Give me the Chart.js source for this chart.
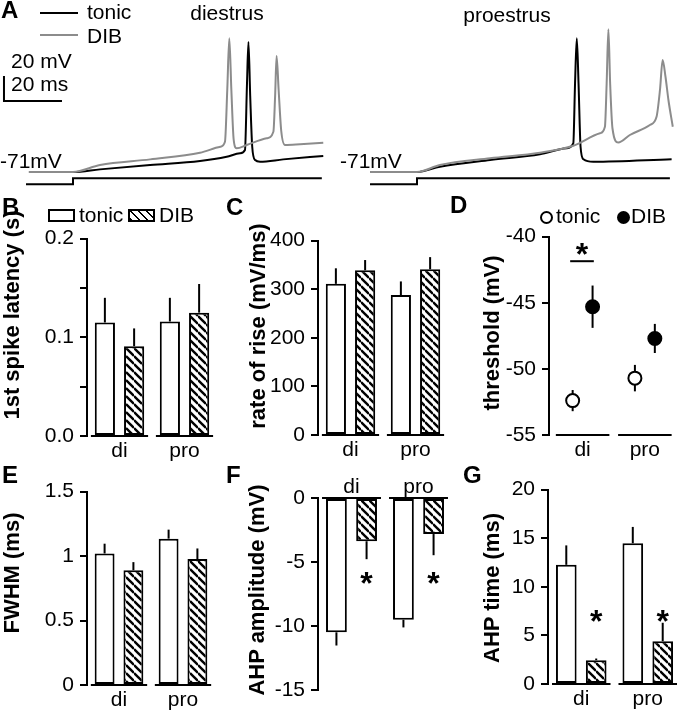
<!DOCTYPE html>
<html>
<head>
<meta charset="utf-8">
<script src="https://cdn.jsdelivr.net/npm/chart.js@4.4.1/dist/chart.umd.min.js"></script>
<style>
  body { margin: 0; background: #fff; }
  #fig { position: relative; width: 682px; height: 714px; overflow: hidden;
         font-family: "Liberation Sans", Arial, sans-serif; color: #000; }
  #fig canvas { position: absolute; }
  .t { position: absolute; line-height: 1; white-space: nowrap; }
  .yt { position: absolute; line-height: 1; white-space: nowrap; font-weight: bold; font-size: 22px;
        transform: translate(-50%, -50%) rotate(-90deg); }
</style>
</head>
<body>
<div id="fig"></div>
<script>
// ---- data ----
const groups = ['di', 'pro'];

// B: 1st spike latency (s)
const latTonic = [0.115, 0.116];
const latTonicErr = [0.025, 0.024];
const latDib = [0.091, 0.125];
const latDibErr = [0.018, 0.029];

// C: rate of rise (mV/ms)
const riseTonic = [311, 288];
const riseTonicErr = [32, 28];
const riseDib = [339, 341];
const riseDibErr = [21, 25];

// D: threshold (mV)
const thrTonic = [-52.4, -50.7];
const thrTonicErr = [0.8, 1.0];
const thrDib = [-45.3, -47.7];
const thrDibErr = [1.6, 1.1];

// E: FWHM (ms)
const fwhmTonic = [1.02, 1.135];
const fwhmTonicErr = [0.076, 0.07];
const fwhmDib = [0.89, 0.977];
const fwhmDibErr = [0.063, 0.082];

// F: AHP amplitude (mV)
const ahpAmpTonic = [-10.47, -9.49];
const ahpAmpTonicErr = [1.03, 0.6];
const ahpAmpDib = [-3.37, -2.81];
const ahpAmpDibErr = [1.4, 1.65];

// G: AHP time (ms)
const ahpTimeTonic = [12.26, 14.48];
const ahpTimeTonicErr = [2.0, 1.68];
const ahpTimeDib = [2.45, 4.4];
const ahpTimeDibErr = [0.17, 1.9];

// A: example traces (time ms from step onset, membrane potential mV)
const diTonicT = [-15.2, 0, 9.3, 26.6, 43.8, 53, 57.6, 59.3, 60.0, 60.5, 61.1, 61.8, 62.8, 64.5, 72.5, 86.3];
const diTonicV = [-71, -71, -68.9, -65.4, -62.2, -58.8, -56, -53.4, 0, 33, -10, -50.8, -61.4, -62.8, -60.9, -58.2];
const diDibT = [-15.2, 0, 9.3, 26.6, 43.8, 50.8, 52.4, 53.2, 53.9, 54.6, 55.4, 56.4, 59.9, 66.8, 69.1, 69.7, 70.2, 70.9, 71.8, 73.1, 78.3, 86.3];
const diDibV = [-71, -71, -65.4, -60.9, -55.6, -50.8, -46.8, -5, 36, -5, -45, -52, -49.4, -44, -38.8, -10, 21.8, -5, -38, -49.4, -48.8, -47.6];
const proTonicT = [-16.2, 0, 7.9, 25.2, 42.4, 51.6, 53.9, 54.5, 55.1, 55.7, 56.4, 57.4, 60.8, 87.8];
const proTonicV = [-71, -71, -66.8, -61.4, -56.8, -52, -48, 0, 36, 0, -50.8, -60.8, -62.8, -60.8];
const proDibT = [-16.2, 0, 7.9, 25.2, 42.4, 53.9, 63.1, 64.8, 65.4, 66.0, 66.6, 67.4, 69.4, 73.4, 80.3, 82.6, 83.8, 84.7, 85.7, 86.7, 88.2];
const proDibV = [-71, -71, -65.4, -60, -55.6, -50, -40, -34.8, 0, 43.2, 0, -36, -47.4, -41.4, -33.4, -26.8, -5, 18.6, 5, -13.4, -34.8];
// current step (relative units)
const diStimT = [-16.2, 0, 0, 85.8];
const proStimT = [-16.2, 0, 0, 87.2];
const stimI = [0, 0, 1, 1];

const FONT = '"Liberation Sans", Arial, sans-serif';
const GRAY = '#8c8c8c';
const fig = document.getElementById('fig');

Chart.defaults.font.family = FONT;
Chart.defaults.font.size = 21;
Chart.defaults.color = '#000';

function makeCanvas(left, top, w, h) {
  const c = document.createElement('canvas');
  c.width = w; c.height = h;
  c.style.left = left + 'px'; c.style.top = top + 'px';
  c.style.width = w + 'px'; c.style.height = h + 'px';
  fig.appendChild(c);
  return c;
}

function zip(xs, ys) {
  return xs.map((x, i) => ({ x, y: ys[i] }));
}

function makeHatch() {
  const s = 8;
  const c = document.createElement('canvas');
  c.width = s; c.height = s;
  const g = c.getContext('2d');
  g.fillStyle = '#fff';
  g.fillRect(0, 0, s, s);
  g.strokeStyle = '#000';
  g.lineWidth = 2.4;
  [-1, 0, 1].forEach((k) => {
    g.beginPath();
    g.moveTo(0, k * s);
    g.lineTo(s, s + k * s);
    g.stroke();
  });
  return g.createPattern(c, 'repeat');
}
const hatch = makeHatch();

// error bars on bars (away from zero) or through points (both ways)
const errorBars = {
  id: 'errorBars',
  beforeDatasetsDraw(chart, args, opts) {
    if (opts.mode === 'both') draw(chart, opts);
  },
  afterDatasetsDraw(chart, args, opts) {
    if (opts.mode !== 'both') draw(chart, opts);
  },
};
function draw(chart, opts) {
  const ctx = chart.ctx;
  const ys = chart.scales.y;
  ctx.save();
  ctx.strokeStyle = '#000';
  ctx.lineWidth = 2;
  chart.data.datasets.forEach((ds, i) => {
    if (!ds.errors) return;
    chart.getDatasetMeta(i).data.forEach((el, j) => {
      const d = ds.data[j];
      const v = typeof d === 'object' ? d.y : d;
      const e = ds.errors[j];
      ctx.beginPath();
      if (opts.mode === 'both') {
        ctx.moveTo(el.x, ys.getPixelForValue(v - e));
        ctx.lineTo(el.x, ys.getPixelForValue(v + e));
      } else {
        ctx.moveTo(el.x, el.y);
        ctx.lineTo(el.x, ys.getPixelForValue(v + Math.sign(v) * e));
      }
      ctx.stroke();
    });
  });
  ctx.restore();
}

// separate baseline segment under each group, stars and significance lines
const marks = {
  id: 'marks',
  afterDraw(chart, args, opts) {
    const ctx = chart.ctx;
    const xs = chart.scales.x, ys = chart.scales.y;
    ctx.save();
    ctx.strokeStyle = '#000';
    ctx.fillStyle = '#000';
    ctx.lineWidth = 2;
    const by = ys.getPixelForValue(opts.base);
    opts.centers.forEach((c) => {
      ctx.beginPath();
      ctx.moveTo(xs.getPixelForValue(c - opts.half), by);
      ctx.lineTo(xs.getPixelForValue(c + opts.half), by);
      ctx.stroke();
    });
    (opts.lines || []).forEach((l) => {
      const y = ys.getPixelForValue(l.y);
      ctx.beginPath();
      ctx.moveTo(xs.getPixelForValue(l.x0), y);
      ctx.lineTo(xs.getPixelForValue(l.x1), y);
      ctx.stroke();
    });
    ctx.font = 'bold 32px ' + FONT;
    ctx.textAlign = 'center';
    ctx.textBaseline = 'alphabetic';
    (opts.stars || []).forEach((s) => {
      const px = s.ds != null ? chart.getDatasetMeta(s.ds).data[s.idx].x : xs.getPixelForValue(s.x);
      const py = ys.getPixelForValue(s.y);
      ctx.fillText('*', px, py + 0.56 * 32);
    });
    ctx.restore();
  },
};

const plain = (v) => String(v);

function yAxis(min, max, step, fmt, width) {
  return {
    min, max,
    ticks: { stepSize: step, autoSkip: false, padding: 6, font: { size: 21 }, color: '#000', callback: fmt || plain },
    grid: { drawOnChartArea: false, drawTicks: true, tickLength: 7, color: '#000', lineWidth: 2 },
    border: { display: true, color: '#000', width: 2 },
    afterFit: (s) => { s.width = width; },
  };
}

function barPanel(p) {
  const isTop = p.xPos === 'top';
  const top = isTop ? p.top - 30 : p.top - 15;
  const height = isTop ? p.bottom - top + 14 : p.bottom - top + 29;
  const width = p.right - p.left + 3;
  const cv = makeCanvas(p.left, top, width, height);
  return new Chart(cv, {
    type: 'bar',
    data: {
      labels: groups,
      datasets: [
        { label: 'tonic', data: p.tonic, errors: p.tonicErr, backgroundColor: '#fff' },
        { label: 'DIB', data: p.dib, errors: p.dibErr, backgroundColor: hatch },
      ],
    },
    options: {
      responsive: false,
      animation: false,
      layout: { padding: { left: 0, right: 3, top: isTop ? 0 : 15, bottom: isTop ? 14 : 0 } },
      datasets: { bar: { categoryPercentage: 0.9, barPercentage: 0.69, borderColor: '#000', borderWidth: 2, borderSkipped: false } },
      plugins: {
        legend: { display: false },
        tooltip: { enabled: false },
        errorBars: { mode: 'out' },
        marks: { base: 0, centers: [0, 1], half: 0.44, stars: p.stars },
      },
      scales: {
        x: {
          position: p.xPos || 'bottom',
          offset: true,
          grid: { display: false, drawTicks: false },
          border: { display: false },
          ticks: { font: { size: 21 }, color: '#000', padding: isTop ? -2 : 3 },
          afterFit: (s) => { s.height = isTop ? 30 : 29; },
        },
        y: yAxis(p.min, p.max, p.step, p.fmt, p.axisX - p.left),
      },
    },
    plugins: [errorBars, marks],
  });
}

// scale bar in panel A
const scaleBar = {
  id: 'scaleBar',
  afterDraw(chart, args, opts) {
    if (!opts.show) return;
    const ctx = chart.ctx, xs = chart.scales.x, ys = chart.scales.y;
    const x0 = xs.getPixelForValue(opts.t0), x1 = xs.getPixelForValue(opts.t0 + 20);
    const y0 = ys.getPixelForValue(opts.v0), y1 = ys.getPixelForValue(opts.v0 + 20);
    ctx.save();
    ctx.strokeStyle = '#000';
    ctx.lineWidth = 2;
    ctx.beginPath();
    ctx.moveTo(x0, y1);
    ctx.lineTo(x0, y0);
    ctx.lineTo(x1, y0);
    ctx.stroke();
    ctx.restore();
  },
};

function traceChart(left, width, tonicT, tonicV, dibT, dibV, stimT, showBar) {
  const cv = makeCanvas(left, 0, width, 195);
  return new Chart(cv, {
    type: 'line',
    data: {
      datasets: [
        { data: zip(dibT, dibV), borderColor: GRAY, cubicInterpolationMode: 'monotone' },
        { data: zip(tonicT, tonicV), borderColor: '#000', cubicInterpolationMode: 'monotone' },
        { data: zip(stimT, stimI), borderColor: '#000', yAxisID: 'yI', tension: 0 },
      ],
    },
    options: {
      responsive: false,
      animation: false,
      layout: { padding: 0 },
      elements: { point: { radius: 0 }, line: { borderWidth: 2, fill: false } },
      plugins: {
        legend: { display: false },
        tooltip: { enabled: false },
        scaleBar: { show: showBar, t0: -23.8, v0: -14.2 },
      },
      scales: {
        x: { type: 'linear', display: false, min: -73 / 2.9, max: (width - 73) / 2.9 },
        y: { display: false, min: -71 - 23 / 1.25, max: -71 + 172 / 1.25 },
        yI: { display: false, min: -(195 - 184.3) / 6, max: 184.3 / 6 },
      },
    },
    plugins: [scaleBar],
  });
}

traceChart(0, 340, diTonicT, diTonicV, diDibT, diDibV, diStimT, true);
traceChart(344, 338, proTonicT, proTonicV, proDibT, proDibV, proStimT, false);

const tenths = (v) => (Math.abs(v * 10 - Math.round(v * 10)) < 1e-6 ? v.toFixed(1) : '');

barPanel({ left: 30, axisX: 87, top: 235, bottom: 436, right: 217, min: 0, max: 0.2, step: 0.05, fmt: tenths,
  tonic: latTonic, tonicErr: latTonicErr, dib: latDib, dibErr: latDibErr });
barPanel({ left: 265, axisX: 318, top: 237, bottom: 435, right: 448, min: 0, max: 400, step: 100,
  tonic: riseTonic, tonicErr: riseTonicErr, dib: riseDib, dibErr: riseDibErr });
barPanel({ left: 30, axisX: 87, top: 488, bottom: 685, right: 215, min: 0, max: 1.5, step: 0.5,
  tonic: fwhmTonic, tonicErr: fwhmTonicErr, dib: fwhmDib, dibErr: fwhmDibErr });
barPanel({ left: 265, axisX: 318, top: 498, bottom: 695, right: 452, min: -15, max: 0, step: 5, xPos: 'top',
  tonic: ahpAmpTonic, tonicErr: ahpAmpTonicErr, dib: ahpAmpDib, dibErr: ahpAmpDibErr,
  stars: [{ ds: 1, idx: 0, y: -6.1 }, { ds: 1, idx: 1, y: -6.1 }] });
barPanel({ left: 500, axisX: 548, top: 486, bottom: 684, right: 681, min: 0, max: 20, step: 5,
  tonic: ahpTimeTonic, tonicErr: ahpTimeTonicErr, dib: ahpTimeDib, dibErr: ahpTimeDibErr,
  stars: [{ ds: 1, idx: 0, y: 7.2 }, { ds: 1, idx: 1, y: 7.2 }] });

// D: threshold, points with error bars
(function () {
  const dodge = 0.16;
  const cv = makeCanvas(500, 218, 182, 246);
  new Chart(cv, {
    type: 'scatter',
    data: {
      datasets: [
        { label: 'tonic', data: groups.map((g, i) => ({ x: i + 1 - dodge, y: thrTonic[i] })), errors: thrTonicErr,
          pointBackgroundColor: '#fff' },
        { label: 'DIB', data: groups.map((g, i) => ({ x: i + 1 + dodge, y: thrDib[i] })), errors: thrDibErr,
          pointBackgroundColor: '#000' },
      ],
    },
    options: {
      responsive: false,
      animation: false,
      layout: { padding: { left: 0, right: 1, top: 15, bottom: 0 } },
      elements: { point: { radius: 6.5, borderWidth: 2, borderColor: '#000' } },
      plugins: {
        legend: { display: false },
        tooltip: { enabled: false },
        errorBars: { mode: 'both' },
        marks: { base: -55, centers: [1, 2], half: 0.43, lines: [{ x0: 0.8, x1: 1.18, y: -41.86 }], stars: [{ x: 0.99, y: -40.8 }] },
      },
      scales: {
        x: {
          type: 'linear', min: 0.46, max: 2.46,
          grid: { display: false, drawTicks: false },
          border: { display: false },
          afterBuildTicks: (s) => { s.ticks = groups.map((g, i) => ({ value: i + 1 })); },
          ticks: { font: { size: 21 }, color: '#000', padding: 3, callback: (v) => groups[Math.round(v) - 1] },
          afterFit: (s) => { s.height = 29; },
        },
        y: yAxis(-55, -40, 5, null, 49),
      },
    },
    plugins: [errorBars, marks],
  });
})();

// ---- text ----
function txt(s, x, base, size, opts = {}) {
  const d = document.createElement('div');
  d.className = 't';
  d.textContent = s;
  d.style.fontSize = size + 'px';
  if (opts.bold) d.style.fontWeight = 'bold';
  d.style.top = (base - 0.8465 * size) + 'px';
  d.style.left = x + 'px';
  if (opts.center) d.style.transform = 'translateX(-50%)';
  fig.appendChild(d);
  return d;
}
function ytitle(s, cx, cy) {
  const d = document.createElement('div');
  d.className = 'yt';
  d.textContent = s;
  d.style.left = cx + 'px';
  d.style.top = cy + 'px';
  fig.appendChild(d);
}
function box(x, y, w, h, css) {
  const d = document.createElement('div');
  d.style.position = 'absolute';
  d.style.left = x + 'px'; d.style.top = y + 'px';
  d.style.width = w + 'px'; d.style.height = h + 'px';
  d.style.boxSizing = 'border-box';
  Object.assign(d.style, css);
  fig.appendChild(d);
}

// panel letters
txt('A', 1, 18.5, 24, { bold: true });
txt('B', 2, 215.5, 24, { bold: true });
txt('C', 226, 215, 24, { bold: true });
txt('D', 450, 213, 24, { bold: true });
txt('E', 2, 483, 24, { bold: true });
txt('F', 226, 483, 24, { bold: true });
txt('G', 463, 483, 24, { bold: true });

// panel A labels
box(40, 12, 38, 2, { background: '#000' });
box(40, 34, 38, 2, { background: GRAY });
txt('tonic', 87, 18.5, 21);
txt('DIB', 87, 43, 21);
txt('diestrus', 227, 19.5, 21, { center: true });
txt('proestrus', 507, 21.5, 21, { center: true });
txt('20 mV', 11, 68, 21);
txt('20 ms', 11, 91, 21);
txt('-71mV', 0, 168, 21);
txt('-71mV', 340, 168, 21);

// legend B
box(48, 209, 27, 13, { border: '2px solid #000', background: '#fff' });
txt('tonic', 79, 222, 21);
box(128, 209, 27, 13, { border: '2px solid #000', background: 'repeating-linear-gradient(45deg, #000 0 1.8px, #fff 1.8px 5.66px)' });
txt('DIB', 159, 222, 21);

// legend D
box(540, 211, 13, 13, { border: '2px solid #000', borderRadius: '50%', background: '#fff' });
txt('tonic', 556, 222.5, 21);
box(617, 211, 13, 13, { borderRadius: '50%', background: '#000' });
txt('DIB', 631, 222.5, 21);

// axis titles
ytitle('1st spike latency (s)', 11.5, 315);
ytitle('rate of rise (mV/ms)', 258, 326);
ytitle('threshold (mV)', 492, 333);
ytitle('FWHM (ms)', 12, 573);
ytitle('AHP amplitude (mV)', 257, 590);
ytitle('AHP time (ms)', 492, 588);
</script>
</body>
</html>
